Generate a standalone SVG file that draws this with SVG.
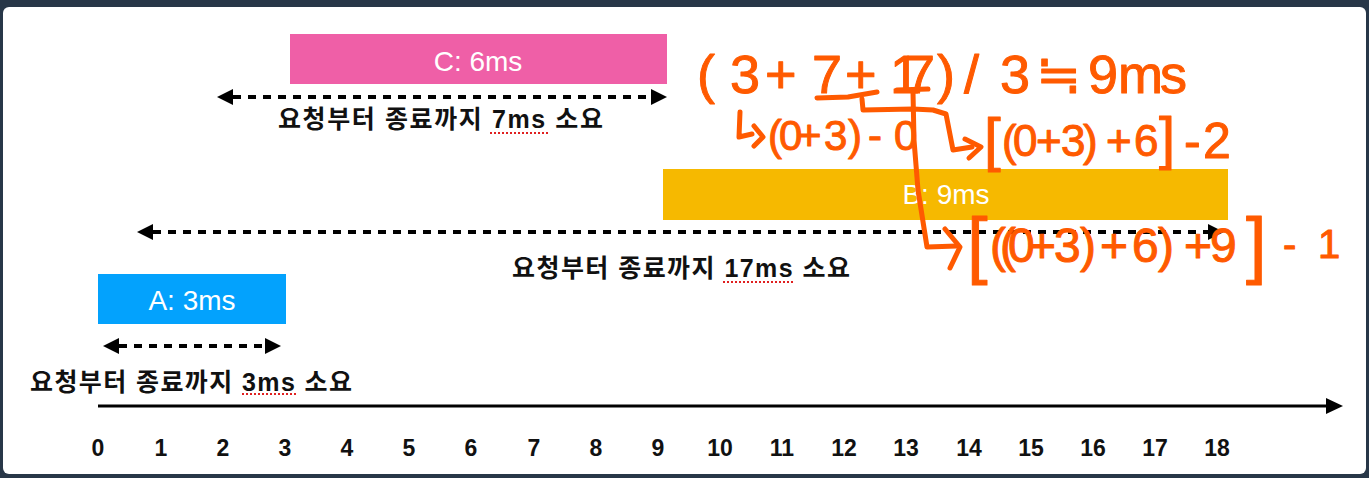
<svg xmlns="http://www.w3.org/2000/svg" width="1369" height="478" viewBox="0 0 1369 478">
<defs>
<style>
.box-label{font-family:"Liberation Sans",Arial,sans-serif;font-size:28px;fill:#ffffff;text-anchor:middle}
.kr{font-family:"Liberation Sans","Noto Sans CJK KR",sans-serif;font-size:25px;font-weight:bold;fill:#111111}
.tick{font-family:"Liberation Sans",Arial,sans-serif;font-size:23px;font-weight:bold;fill:#111111;text-anchor:middle}
.dash{stroke:#000;stroke-width:4;stroke-dasharray:8 7;fill:none}
.spell{stroke:#e02020;stroke-width:2;stroke-dasharray:2 2;fill:none}
.hw{font-family:"Liberation Sans",Arial,sans-serif;fill:#FF5A00;stroke:#FF5A00;stroke-width:1;stroke-linejoin:round}
.hwl{fill:none;stroke:#FF5A00;stroke-width:5;stroke-linecap:round;stroke-linejoin:round}
</style>
<marker id="ah" markerUnits="userSpaceOnUse" markerWidth="16" markerHeight="16" refX="0" refY="8" orient="auto-start-reverse">
<path d="M0,0 L16,8 L0,16 z" fill="#000"/>
</marker>
</defs>
<rect x="0" y="0" width="1369" height="478" fill="#283748"/>
<rect x="3" y="7" width="1363" height="467" rx="6" fill="#ffffff"/>

<g id="node-C">
<rect x="290" y="34" width="377" height="50" fill="#EF5FA7"/>
<text class="box-label" x="478" y="71">C: 6ms</text>
</g>
<g id="node-B">
<rect x="663" y="169" width="565" height="51" fill="#F6B900"/>
<text class="box-label" x="946" y="204">B: 9ms</text>
</g>
<g id="node-A">
<rect x="98" y="274" width="188" height="50" fill="#03A2FD"/>
<text class="box-label" x="192" y="310">A: 3ms</text>
</g>

<g id="connectors">
<line class="dash" x1="233" y1="97" x2="651" y2="97" marker-start="url(#ah)" marker-end="url(#ah)"/>
<line class="dash" x1="153" y1="232" x2="1208" y2="232" marker-start="url(#ah)" marker-end="url(#ah)"/>
<line class="dash" x1="119" y1="346" x2="265" y2="346" marker-start="url(#ah)" marker-end="url(#ah)"/>
</g>

<g id="labels">
<text class="kr" x="278" y="128" textLength="325">요청부터 종료까지 7ms 소요</text>
<line class="spell" x1="490" y1="133" x2="548" y2="133"/>
<text class="kr" x="512" y="277" textLength="338">요청부터 종료까지 17ms 소요</text>
<line class="spell" x1="723" y1="282" x2="795" y2="282"/>
<text class="kr" x="30" y="391" textLength="322">요청부터 종료까지 3ms 소요</text>
<line class="spell" x1="242" y1="394" x2="298" y2="394"/>
</g>

<g id="axis">
<line x1="98" y1="406" x2="1328" y2="406" stroke="#000" stroke-width="3"/>
<polygon points="1326,398 1343,406 1326,414" fill="#000"/>
<text class="tick" x="98" y="456">0</text>
<text class="tick" x="161" y="456">1</text>
<text class="tick" x="223" y="456">2</text>
<text class="tick" x="285" y="456">3</text>
<text class="tick" x="347" y="456">4</text>
<text class="tick" x="409" y="456">5</text>
<text class="tick" x="471" y="456">6</text>
<text class="tick" x="534" y="456">7</text>
<text class="tick" x="596" y="456">8</text>
<text class="tick" x="658" y="456">9</text>
<text class="tick" x="720" y="456">10</text>
<text class="tick" x="782" y="456">11</text>
<text class="tick" x="844" y="456">12</text>
<text class="tick" x="906" y="456">13</text>
<text class="tick" x="969" y="456">14</text>
<text class="tick" x="1031" y="456">15</text>
<text class="tick" x="1093" y="456">16</text>
<text class="tick" x="1155" y="456">17</text>
<text class="tick" x="1217" y="456">18</text>
</g>

<g id="annotations">
<text class="hw" font-size="54" y="93" x="697 730 765 812 845 890 905 937 964 1000 1036 1088 1118 1160">(3+7+17)/3≒9ms</text>
<path class="hwl" d="M817 98 L848 97 L877 92"/>
<path class="hwl" d="M897 90 L928 89"/>
<path class="hwl" d="M862 99 L863 110 L913 109 L933 110 L946 114 L953 150 L972 147"/>
<path class="hwl" d="M965 139 L981 147 L969 158"/>
<path class="hwl" d="M913 92 L914 140 L918 190 L927 247 L957 246"/>
<path class="hwl" d="M945 229 L960 247 L950 268"/>
<path class="hwl" d="M740 112 L739 137 L752 134"/>
<path class="hwl" d="M754 126 L763 137 L754 146"/>
<text class="hw" font-size="42" y="150" x="768 779 797 824 848 868 894">(0+3)-0</text>
<text class="hw" font-size="60" y="160" x="984">[</text>
<text class="hw" font-size="44" y="156" x="1002 1013 1036 1061 1083 1106 1134">(0+3)+6</text>
<text class="hw" font-size="58" y="158" x="1159">]</text>
<text class="hw" font-size="50" y="158" x="1184 1203">-2</text>
<text class="hw" font-size="74" y="270" x="967">[</text>
<text class="hw" font-size="48" y="262" x="990 1000 1008 1028 1054 1080 1100 1132 1158 1184 1210">((0+3)+6)+9</text>
<text class="hw" font-size="74" y="270" x="1246">]</text>
<text class="hw" font-size="40" y="258" x="1283 1318">-1</text>
</g>
</svg>
